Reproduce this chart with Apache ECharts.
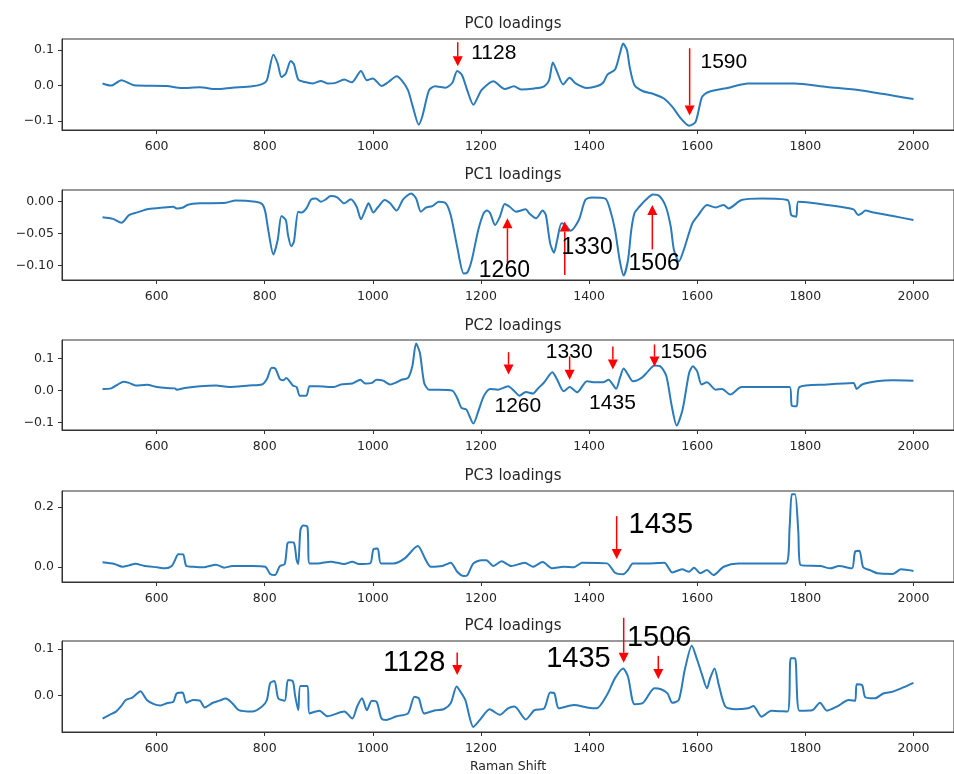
<!DOCTYPE html>
<html><head><meta charset="utf-8">
<script src="https://cdn.jsdelivr.net/npm/echarts@6/dist/echarts.min.js"></script>
<style>html,body{margin:0;padding:0;background:#fff}#c{width:954px;height:774px}</style>
</head><body><div id="c"></div>
<script>
// ---------- data ----------
const xTicks = [600, 800, 1000, 1200, 1400, 1600, 1800, 2000];
const titles = ['PC0 loadings', 'PC1 loadings', 'PC2 loadings', 'PC3 loadings', 'PC4 loadings'];

const pc0X = [500,516,535,558,619,646,680,710,740,777,795,804,816,824,831,839,848,854,862,874,889,904,916,931,947,961,978,989,1000,1016,1029,1044,1053,1065,1074,1085,1092,1104,1115,1135,1147,1156,1165,1175,1186,1201,1223,1244,1261,1274,1299,1317,1326,1333,1341,1352,1364,1375,1396,1414,1426,1434,1448,1457,1463,1470,1475,1484,1500,1518,1539,1554,1570,1585,1597,1609,1621,1658,1694,1780,1840,1901,2000];
const pc0Y = [0.006,0.0,0.015,0.001,-0.001,-0.007,-0.005,-0.01,-0.006,-0.002,0.004,0.015,0.087,0.062,0.024,0.034,0.069,0.06,0.017,0.01,0.006,0.013,0.006,0.0075,0.017,0.009,0.041,0.015,0.02,-0.001,0.01,0.026,0.015,-0.013,-0.06,-0.11,-0.084,-0.013,-0.002,-0.006,0.008,0.041,0.029,-0.015,-0.054,-0.013,0.012,-0.01,-0.002,-0.011,-0.008,-0.002,0.015,0.065,0.038,0.003,0.022,0.006,-0.007,-0.002,0.008,0.031,0.045,0.09,0.118,0.1,0.053,0.001,-0.016,-0.023,-0.037,-0.06,-0.093,-0.113,-0.102,-0.032,-0.018,-0.006,0.006,0.006,-0.004,-0.013,-0.038];

const pc1X = [500,519,535,549,564,585,613,631,637,649,658,680,728,746,783,795,801,807,816,824,831,839,843,849,854,862,868,877,886,895,904,913,922,934,947,959,970,978,986,992,1001,1010,1022,1032,1044,1056,1071,1080,1089,1098,1110,1122,1135,1144,1156,1168,1175,1183,1195,1205,1211,1217,1226,1235,1244,1253,1265,1283,1289,1302,1314,1320,1328,1335,1341,1349,1356,1366,1381,1393,1405,1430,1439,1448,1457,1464,1472,1478,1484,1493,1506,1518,1530,1542,1551,1557,1566,1575,1591,1602,1618,1634,1649,1658,1682,1719,1767,1774,1783,1787,1810,1840,1889,1898,1905,1911,1926,1962,2000];
const pc1Y = [-0.0246,-0.027,-0.033,-0.021,-0.0168,-0.0115,-0.009,-0.0079,-0.0105,-0.009,-0.0047,-0.0026,-0.0016,0.002,0,-0.0037,-0.0157,-0.047,-0.083,-0.06,-0.0225,-0.029,-0.052,-0.07,-0.063,-0.0157,-0.017,-0.0105,0.0037,0.005,0,0.0037,0.009,0.007,-0.0026,0.0037,-0.0079,-0.0277,-0.013,-0.0026,-0.017,-0.0079,0.0026,-0.0026,-0.014,0.0037,0.013,0.005,-0.0157,-0.0094,-0.0068,0,-0.0026,-0.021,-0.0707,-0.1126,-0.111,-0.0916,-0.0445,-0.018,-0.014,-0.018,-0.0366,-0.0236,-0.0037,-0.0079,-0.0157,-0.012,-0.018,-0.026,-0.014,-0.021,-0.0654,-0.08,-0.06,-0.034,-0.0366,-0.0455,-0.0288,0.0026,0.0068,0.005,-0.013,-0.0445,-0.094,-0.116,-0.0916,-0.0445,-0.018,-0.0079,0.0037,0.0115,0.009,-0.0079,-0.039,-0.076,-0.094,-0.076,-0.034,-0.021,-0.005,-0.009,-0.005,-0.0105,0.0026,0.005,0.0026,-0.021,-0.0236,0,-0.0016,-0.005,-0.012,-0.021,-0.018,-0.014,-0.017,-0.0225,-0.0288];

const pc2X = [500,516,528,539,549,561,582,601,619,634,637,652,680,710,734,771,795,804,813,820,828,834,840,846,852,859,865,877,883,898,928,941,962,977,986,998,1007,1019,1032,1044,1053,1065,1073,1080,1087,1095,1104,1122,1147,1156,1164,1173,1186,1195,1205,1217,1232,1250,1262,1271,1283,1296,1305,1317,1332,1341,1353,1364,1378,1396,1411,1426,1436,1450,1457,1464,1472,1481,1497,1509,1521,1533,1543,1553,1562,1573,1585,1592,1600,1608,1618,1634,1646,1661,1682,1719,1771,1775,1784,1789,1840,1889,1895,1905,1932,1962,2000];
const pc2Y = [0.004,0.006,0.018,0.027,0.023,0.015,0.017,0.010,0.007,0.006,0.002,0.007,0.0125,0.015,0.01,0.015,0.018,0.035,0.07,0.067,0.035,0.031,0.0385,0.028,0.015,0.010,-0.0167,-0.0167,0.0125,0.0125,0.010,0.018,0.021,0.033,0.021,0.023,0.033,0.030,0.018,0.025,0.033,0.0385,0.075,0.146,0.117,0.023,0.002,0.002,-0.001,-0.024,-0.055,-0.06,-0.104,-0.066,-0.019,0.004,0.002,0.0125,-0.003,-0.0167,-0.005,-0.0104,0.005,0.025,0.056,0.033,-0.003,0.010,-0.006,0.028,0.025,0.025,0.033,0.005,0.0385,0.068,0.049,0.028,0.0385,0.059,0.077,0.073,0.044,-0.05,-0.110,-0.060,0.054,0.075,0.059,0.018,0.025,0.002,0.004,-0.0135,0.010,0.010,0.010,-0.048,-0.050,0.010,0.018,0.023,0.004,0.018,0.028,0.031,0.030];

const pc3X = [500,522,537,549,561,576,601,616,628,634,640,649,655,667,686,710,725,740,777,801,810,819,828,837,842,846,854,859,862,866,871,879,883,898,922,947,962,974,995,1001,1009,1015,1038,1059,1083,1098,1107,1128,1144,1156,1168,1175,1186,1201,1210,1223,1238,1256,1281,1296,1314,1332,1353,1372,1387,1433,1448,1463,1472,1481,1512,1539,1554,1572,1585,1594,1606,1618,1630,1649,1676,1719,1764,1771,1775,1781,1787,1791,1828,1846,1862,1886,1892,1900,1907,1919,1934,1962,1977,2000];
const pc3Y = [0.0156,0.01,0.001,0.0056,0.011,0.0044,-0.001,-0.0044,0.0033,0.023,0.043,0.042,0.0033,0.001,-0.001,0.0078,-0.002,0.0033,0.0033,0.001,-0.023,-0.027,0.0033,0.01,0.079,0.083,0.081,0.023,0.01,0.123,0.139,0.134,0.0122,0.0122,0.018,0.01,0.018,0.01,0.0122,0.059,0.062,0.0122,0.0122,0.029,0.07,0.023,0.001,0.0033,0.0144,-0.0156,-0.03,-0.027,0.0122,0.023,0.023,0.0033,0.019,0.0033,0.0144,0.001,0.0167,-0.0044,0.001,-0.001,0.0144,0.0122,-0.019,-0.024,-0.01,0.0122,0.0122,0.0144,-0.018,-0.0078,-0.0156,-0.002,-0.021,-0.01,-0.027,0.001,0.0122,0.0122,0.0122,0.134,0.243,0.243,0.118,0.0067,0.0033,-0.0044,0.0033,-0.0044,0.051,0.054,-0.001,-0.01,-0.021,-0.023,-0.0078,-0.013];

const pc4X = [500,513,525,534,543,555,564,570,582,595,607,619,631,637,648,655,667,680,689,704,716,728,740,752,777,795,804,810,818,825,837,843,852,856,862,866,879,883,901,916,947,962,971,980,989,998,1007,1016,1025,1044,1065,1077,1085,1095,1116,1131,1144,1155,1162,1171,1186,1198,1216,1235,1250,1262,1283,1299,1317,1328,1336,1344,1372,1396,1414,1433,1448,1463,1472,1484,1500,1521,1533,1545,1554,1566,1577,1590,1600,1609,1618,1624,1632,1640,1652,1670,1694,1704,1719,1737,1767,1773,1781,1789,1813,1827,1840,1859,1880,1892,1895,1905,1911,1929,1944,1962,1981,2000];
const pc4Y = [-0.05,-0.042,-0.035,-0.024,-0.010,-0.005,0.004,0.009,-0.010,-0.019,-0.022,-0.017,-0.014,0.004,0.006,-0.016,-0.010,-0.0115,-0.026,-0.016,-0.0115,-0.007,-0.017,-0.032,-0.035,-0.024,-0.010,0.026,0.031,-0.0065,-0.0115,0.033,0.030,0.0007,-0.032,0.020,0.020,-0.039,-0.033,-0.045,-0.035,-0.05,-0.024,-0.0065,-0.032,-0.0115,-0.014,-0.05,-0.053,-0.045,-0.039,-0.003,-0.0065,-0.039,-0.032,-0.030,-0.017,0.019,0.008,-0.01,-0.068,-0.053,-0.030,-0.042,-0.028,-0.024,-0.052,-0.032,-0.028,0.006,0.004,-0.028,-0.021,-0.026,-0.028,0.0007,0.037,0.058,0.040,-0.019,-0.016,0.015,0.013,0.004,-0.016,-0.010,0.055,0.107,0.076,0.044,0.015,0.037,0.058,0.022,-0.024,-0.030,-0.028,-0.023,-0.046,-0.033,-0.035,0.080,0.080,-0.033,-0.032,-0.016,-0.033,-0.024,-0.010,-0.012,0.024,0.022,-0.004,-0.0065,0.004,0.008,0.017,0.027];

// y tick values per panel
const yTicks = [[-0.1, 0.0, 0.1], [-0.10, -0.05, 0.00], [-0.1, 0.0, 0.1], [0.0, 0.2], [0.0, 0.1]];
const yDecimals = [1, 2, 1, 1, 1];
const yRange = [[-0.125, 0.131], [-0.123, 0.0184], [-0.124, 0.157], [-0.05, 0.254], [-0.079, 0.117]];

// annotations (data coordinates): arrows [x, yTail, yTip], notes [x, y, text, side]
const arrows = [
  [[1157, 0.122, 0.054], [1586, 0.105, -0.084]],
  [[1249, -0.096, -0.026], [1355, -0.115, -0.031], [1517, -0.075, -0.005]],
  [[1251, 0.119, 0.049], [1364, 0.106, 0.033], [1444, 0.137, 0.065], [1521, 0.143, 0.074]],
  [[1451, 0.17, 0.027]],
  [[1156, 0.092, 0.044], [1464, 0.167, 0.070], [1528, 0.085, 0.035]]
];
const notes = [
  [[1182, 0.091, '1128', 'left'], [1606, 0.066, '1590', 'left']],
  [[1196, -0.109, '1260', 'left'], [1349, -0.0728, '1330', 'left'], [1473, -0.0969, '1506', 'left']],
  [[1320, 0.119, '1330', 'left'], [1532, 0.119, '1506', 'left'], [1225, -0.051, '1260', 'left'], [1400, -0.0416, '1435', 'left']],
  [[1473, 0.14, '1435', 'left']],
  [[1134, 0.070, '1128', 'right'], [1440, 0.078, '1435', 'right'], [1470, 0.124, '1506', 'left']]
];
const noteSizes = [21, 23, 21, 29, 29];

const seriesX = [pc0X, pc1X, pc2X, pc3X, pc4X];
const seriesY = [pc0Y, pc1Y, pc2Y, pc3Y, pc4Y];

// ---------- layout ----------
const gridTops = [39, 190, 340, 491, 641];
const gridHeights = [91, 90, 90, 91, 91];
const titleTops = [17, 168, 319, 469, 619];

const tickFont = { fontFamily: 'DejaVu Sans', fontSize: 12.5, color: '#262626' };
const fmt = d => v => (v < 0 ? '\u2212' : '') + Math.abs(v).toFixed(d);

const grid = [], xAxis = [], yAxis = [], series = [], title = [];
for (let i = 0; i < 5; i++) {
  grid.push({ left: 62, right: -11, top: gridTops[i], height: gridHeights[i], show: true,
    borderColor: '#333', borderWidth: 1, backgroundColor: 'rgba(0,0,0,0)', containLabel: false });
  title.push({ text: titles[i], left: 513, top: titleTops[i], textAlign: 'center', padding: 0,
    textStyle: { fontFamily: 'DejaVu Sans', fontSize: 15, fontWeight: 'normal', color: '#262626' } });
  xAxis.push({ type: 'value', gridIndex: i, min: 425, max: 2075,
    axisLine: { show: true, onZero: false, lineStyle: { color: '#333', width: 1 } },
    axisTick: { show: true, length: 4, lineStyle: { color: '#333' }, customValues: xTicks },
    axisLabel: Object.assign({ margin: 10, customValues: xTicks, formatter: v => String(v) }, tickFont),
    splitLine: { show: false },
    name: i === 4 ? 'Raman Shift' : '', nameLocation: 'middle', nameGap: 28,
    nameTextStyle: { fontFamily: 'DejaVu Sans', fontSize: 12.5, color: '#262626' } });
  yAxis.push({ type: 'value', gridIndex: i, min: yRange[i][0], max: yRange[i][1],
    axisLine: { show: true, onZero: false, lineStyle: { color: '#333', width: 1 } },
    axisTick: { show: true, length: 4, lineStyle: { color: '#333' }, customValues: yTicks[i] },
    axisLabel: Object.assign({ margin: 8, customValues: yTicks[i], formatter: fmt(yDecimals[i]) }, tickFont),
    splitLine: { show: false } });
  const data = seriesX[i].map((x, k) => [x, seriesY[i][k]]);
  series.push({
    type: 'line', xAxisIndex: i, yAxisIndex: i, data, showSymbol: false, smooth: 0.25,
    silent: true, lineStyle: { color: '#2b7bba', width: 2 }
  });
}

const chart = echarts.init(document.getElementById('c'), null, { renderer: 'canvas' });
chart.setOption({ animation: false, backgroundColor: '#fff', title, grid, xAxis, yAxis, series });

// annotations placed through the chart's own scales (convertToPixel)
const graphic = [];
for (let i = 0; i < 5; i++) {
  const toPx = (x, y) => chart.convertToPixel({ xAxisIndex: i, yAxisIndex: i }, [x, y]);
  arrows[i].forEach(a => {
    const t = toPx(a[0], a[1]), h = toPx(a[0], a[2]);
    const dir = h[1] > t[1] ? 1 : -1;
    const base = h[1] - dir * 10;
    graphic.push({ type: 'line', silent: true, z: 50,
      shape: { x1: t[0], y1: t[1], x2: h[0], y2: base },
      style: { stroke: '#ff0000', lineWidth: 1.5 } });
    graphic.push({ type: 'polygon', silent: true, z: 50,
      shape: { points: [[h[0] - 5, base], [h[0] + 5, base], [h[0], h[1]]] },
      style: { fill: '#ff0000' } });
  });
  notes[i].forEach(n => {
    const p = toPx(n[0], n[1]);
    graphic.push({ type: 'text', silent: true, z: 50, x: p[0], y: p[1],
      style: { text: n[2], fontFamily: 'Liberation Sans', fontSize: noteSizes[i], fill: '#000',
        align: n[3], verticalAlign: 'middle' } });
  });
}
chart.setOption({ graphic });
</script></body></html>
